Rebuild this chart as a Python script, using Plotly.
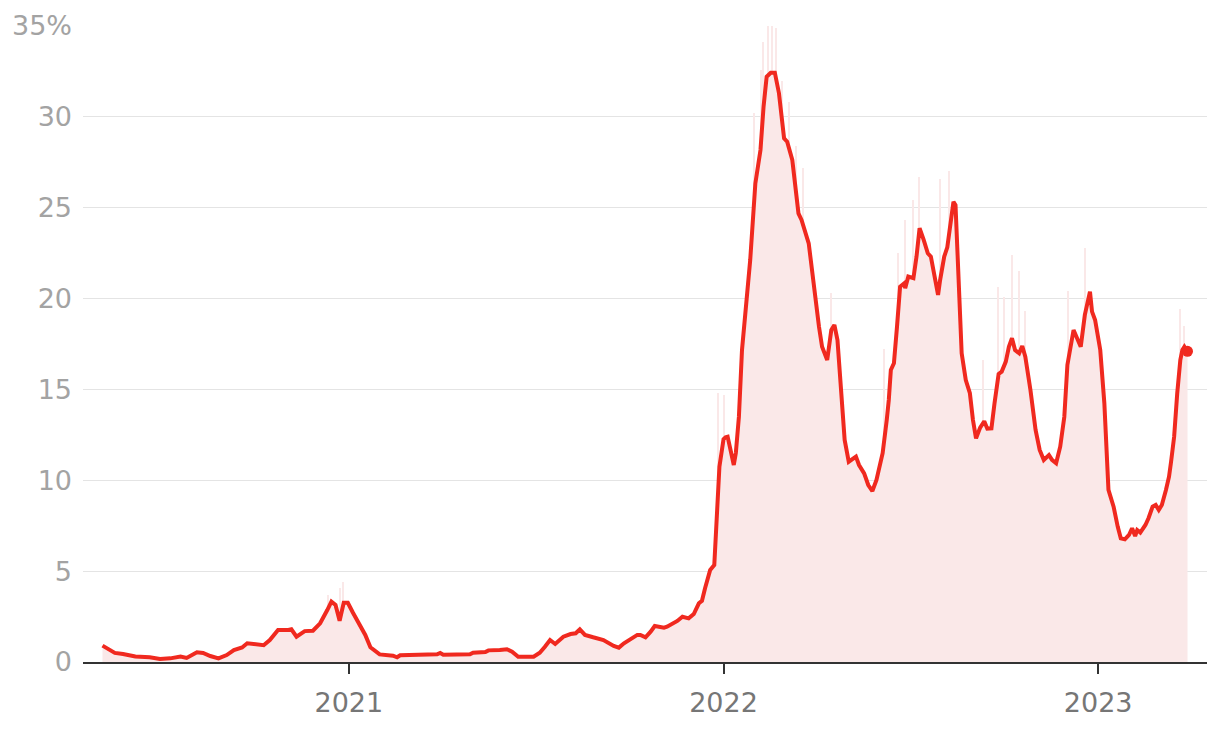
import plotly.graph_objects as go

# 7-day average (red line)
avg_dates = [
    "2020-05-06", "2020-05-13", "2020-05-18", "2020-05-26", "2020-06-07", "2020-06-21",
    "2020-07-01", "2020-07-11", "2020-07-21", "2020-07-27", "2020-08-06", "2020-08-12",
    "2020-08-19", "2020-08-27", "2020-09-04", "2020-09-11", "2020-09-19", "2020-09-24",
    "2020-09-30", "2020-10-10", "2020-10-16", "2020-10-24", "2020-11-03", "2020-11-06",
    "2020-11-11", "2020-11-19", "2020-11-27", "2020-12-04", "2020-12-11", "2020-12-15",
    "2020-12-19", "2020-12-23", "2020-12-27", "2020-12-31", "2021-01-05", "2021-01-12",
    "2021-01-17", "2021-01-22", "2021-01-31", "2021-02-13", "2021-02-17", "2021-02-20",
    "2021-03-28", "2021-03-31", "2021-04-03", "2021-04-29", "2021-05-02", "2021-05-14",
    "2021-05-17", "2021-05-28", "2021-06-04", "2021-06-09", "2021-06-15", "2021-06-30",
    "2021-07-06", "2021-07-11", "2021-07-16", "2021-07-21", "2021-07-29", "2021-08-05",
    "2021-08-10", "2021-08-14", "2021-08-19", "2021-08-27", "2021-09-06", "2021-09-16",
    "2021-09-21", "2021-09-26", "2021-10-02", "2021-10-09", "2021-10-12", "2021-10-17",
    "2021-10-22", "2021-10-26", "2021-11-04", "2021-11-07", "2021-11-17", "2021-11-22",
    "2021-11-28", "2021-12-03", "2021-12-08", "2021-12-11", "2021-12-14", "2021-12-19",
    "2021-12-23", "2021-12-26", "2021-12-27", "2021-12-28", "2022-01-01", "2022-01-03",
    "2022-01-05", "2022-01-08", "2022-01-11", "2022-01-13", "2022-01-16", "2022-01-19",
    "2022-01-22", "2022-01-27", "2022-02-01", "2022-02-06", "2022-02-09", "2022-02-12",
    "2022-02-16", "2022-02-20", "2022-02-24", "2022-03-01", "2022-03-04", "2022-03-09",
    "2022-03-15", "2022-03-18", "2022-03-25", "2022-03-30", "2022-04-04", "2022-04-07",
    "2022-04-12", "2022-04-16", "2022-04-19", "2022-04-22", "2022-04-25", "2022-04-29",
    "2022-05-03", "2022-05-06", "2022-05-10", "2022-05-13", "2022-05-18", "2022-05-22",
    "2022-05-26", "2022-05-30", "2022-06-02", "2022-06-05", "2022-06-09", "2022-06-11",
    "2022-06-13", "2022-06-16", "2022-06-19", "2022-06-22", "2022-06-26", "2022-06-27",
    "2022-06-30", "2022-07-05", "2022-07-08", "2022-07-11", "2022-07-15", "2022-07-19",
    "2022-07-22", "2022-07-25", "2022-07-29", "2022-07-31", "2022-08-04", "2022-08-07",
    "2022-08-11", "2022-08-13", "2022-08-15", "2022-08-18", "2022-08-21", "2022-08-25",
    "2022-08-29", "2022-09-01", "2022-09-04", "2022-09-08", "2022-09-12", "2022-09-15",
    "2022-09-19", "2022-09-22", "2022-09-26", "2022-09-29", "2022-10-03", "2022-10-06",
    "2022-10-09", "2022-10-12", "2022-10-16", "2022-10-19", "2022-10-22", "2022-10-27",
    "2022-11-01", "2022-11-05", "2022-11-09", "2022-11-14", "2022-11-17", "2022-11-21",
    "2022-11-25", "2022-11-29", "2022-12-02", "2022-12-08", "2022-12-12", "2022-12-15",
    "2022-12-19", "2022-12-22", "2022-12-24", "2022-12-26", "2022-12-29", "2023-01-03",
    "2023-01-07", "2023-01-11", "2023-01-16", "2023-01-20", "2023-01-23", "2023-01-27",
    "2023-01-31", "2023-02-03", "2023-02-06", "2023-02-08", "2023-02-11", "2023-02-16",
    "2023-02-19", "2023-02-23", "2023-02-26", "2023-03-01", "2023-03-04", "2023-03-08",
    "2023-03-11", "2023-03-13", "2023-03-16", "2023-03-19", "2023-03-22", "2023-03-24",
    "2023-03-26", "2023-03-29",
]
avg_values = [
    0.9, 0.66, 0.5, 0.44, 0.3, 0.26,
    0.17, 0.2, 0.3, 0.22, 0.53, 0.5,
    0.33, 0.2, 0.38, 0.66, 0.8, 1.03,
    0.99, 0.92, 1.21, 1.76, 1.76, 1.8,
    1.39, 1.7, 1.72, 2.13, 2.86, 3.32,
    3.14, 2.27, 3.26, 3.26, 2.71, 1.94,
    1.49, 0.81, 0.42, 0.35, 0.26, 0.37,
    0.42, 0.5, 0.4, 0.42, 0.51, 0.55,
    0.64, 0.66, 0.7, 0.57, 0.29, 0.29,
    0.51, 0.84, 1.21, 0.99, 1.39, 1.54,
    1.58, 1.8, 1.49, 1.36, 1.21, 0.88,
    0.79, 1.03, 1.27, 1.49, 1.49, 1.36,
    1.67, 1.98, 1.89, 1.94, 2.26, 2.49,
    2.4, 2.64, 3.23, 3.37, 4.06, 5.06,
    5.34, 8.37, 10.0, 10.75, 12.26, 12.37,
    12.4, 11.6, 10.84, 11.5, 13.5, 17.17,
    19.0, 22.12, 26.34, 28.18, 30.56, 32.21,
    32.43, 32.43, 31.3, 28.82, 28.63, 27.63,
    24.69, 24.33, 23.04, 20.65, 18.45, 17.35,
    16.62, 18.27, 18.55, 17.72, 15.3, 12.22,
    11.02, 11.15, 11.3, 10.84, 10.38, 9.74,
    9.41, 10.02, 10.84, 11.49, 13.32, 14.42,
    16.07, 16.44, 18.45, 20.65, 20.84, 20.57,
    21.21, 21.12, 22.31, 23.87, 23.23, 22.49,
    22.31, 21.48, 20.2, 21.02, 22.31, 22.82,
    24.42, 25.33, 25.15, 20.29, 16.99, 15.52,
    14.79, 13.32, 12.31, 12.9, 13.25, 12.84,
    12.86, 14.24, 15.85, 15.98, 16.53, 17.35,
    17.82, 17.17, 16.99, 17.39, 16.8, 14.97,
    12.77, 11.67, 11.12, 11.39, 11.12, 10.94,
    11.85, 13.5, 16.35, 18.27, 17.72, 17.35,
    19.1, 20.02, 20.38, 19.28, 18.82, 17.17,
    14.24, 9.47, 8.55, 7.45, 6.81, 6.75,
    6.99, 7.36, 6.93, 7.26, 7.12, 7.54,
    7.91, 8.55, 8.64, 8.37, 8.64, 9.47,
    10.2, 11.02, 12.4, 14.79, 16.62, 17.17,
    17.35, 17.1,
]

# Daily readings that stand out above the average (light pink spikes)
spike_dates = [
    "2020-12-12", "2020-12-23", "2020-12-26", "2021-12-27", "2022-01-01",
    "2022-01-31", "2022-02-07", "2022-02-08", "2022-02-13", "2022-02-17",
    "2022-02-21", "2022-02-27", "2022-03-06", "2022-03-13", "2022-03-19",
    "2022-04-16", "2022-06-06", "2022-06-20", "2022-06-27", "2022-07-05",
    "2022-07-10", "2022-07-31", "2022-08-09", "2022-09-11", "2022-09-25",
    "2022-10-01", "2022-10-09", "2022-10-16", "2022-10-22", "2022-12-03",
    "2022-12-19", "2023-03-22", "2023-03-26",
]
spike_values = [
    3.69, 4.07, 4.42, 14.8, 14.7,
    30.2, 32.6, 34.1, 35.2, 35.1,
    34.9, 32.0, 30.8, 28.4, 27.2,
    20.3, 17.2, 22.5, 24.3, 25.4,
    26.7, 26.6, 27.0, 16.6, 20.65,
    20.1, 22.4, 21.5, 19.3, 20.4,
    22.8, 19.4, 18.5,
]

y_tickvals = [0, 5, 10, 15, 20, 25, 30, 35]
y_ticktext = ["0", "5", "10", "15", "20", "25", "30", "35%"]
x_tickvals = ["2021-01-01", "2022-01-01", "2023-01-01"]
x_ticktext = ["2021", "2022", "2023"]

PINK = "#fae8e8"
RED = "#f0291f"
FONT = "DejaVu Sans"

fig = go.Figure()
fig.add_trace(go.Scatter(
    x=avg_dates, y=avg_values, mode="lines", fill="tozeroy",
    fillcolor=PINK, line=dict(width=0, color=PINK), hoverinfo="skip",
))
fig.add_trace(go.Bar(
    x=spike_dates, y=spike_values, marker=dict(color=PINK, line=dict(width=0)),
    width=86400000, hoverinfo="skip",
))
fig.add_trace(go.Scatter(
    x=avg_dates, y=avg_values, mode="lines",
    line=dict(color=RED, width=4, shape="linear"),
))
fig.add_trace(go.Scatter(
    x=[avg_dates[-1]], y=[avg_values[-1]], mode="markers",
    marker=dict(color=RED, size=11),
))

fig.update_layout(
    width=1212, height=722,
    margin=dict(l=75, r=13, t=18, b=68),
    plot_bgcolor="white", paper_bgcolor="white",
    showlegend=False, barmode="overlay", bargap=0,
    font=dict(family=FONT),
)
fig.update_xaxes(
    type="date", range=["2020-04-17", "2023-04-17"],
    tickvals=x_tickvals, ticktext=x_ticktext,
    showgrid=False, showline=True, linecolor="#333333", linewidth=2,
    ticks="outside", tickcolor="#333333", ticklen=10, tickwidth=2,
    tickfont=dict(family=FONT, size=27, color="#767676"),
    ticklabelstandoff=6, zeroline=False, automargin=False,
)
fig.update_yaxes(
    range=[0, 35], tickvals=y_tickvals, ticktext=y_ticktext,
    showgrid=True, gridcolor="#e4e4e4", gridwidth=1,
    zeroline=False, showline=False, ticks="",
    tickfont=dict(family=FONT, size=27, color="#a3a3a3"),
    ticklabelstandoff=10, automargin=False,
)

fig.write_html("out.html")
